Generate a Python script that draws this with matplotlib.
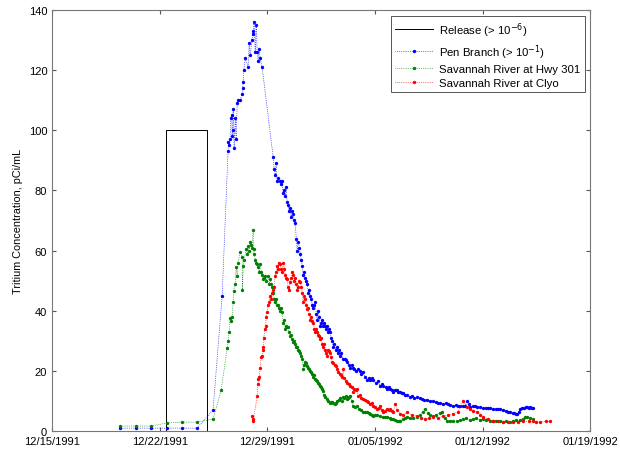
#!/usr/bin/env python
import matplotlib
matplotlib.use('Agg')
import matplotlib.pyplot as plt
import numpy as np
import pandas as pd

plt.rcParams['font.family'] = ['Liberation Sans', 'DejaVu Sans']

# days since 12/15/1991 00:00
release_days = [7.43, 7.43, 10.1, 10.1]
release_vals = [0, 100, 100, 0]

pen_days = [4.42, 5.47, 6.44, 7.48, 8.46, 9.43, 10.47, 11.06, 11.45, 11.47, 11.52, 11.58,
            11.62, 11.68, 11.71, 11.74, 11.78, 11.84, 11.91, 11.97, 12.04, 12.10, 12.23,
            12.36, 12.40, 12.43, 12.47, 12.56, 12.75, 12.82, 12.88, 13.01, 13.04, 13.08,
            13.14, 13.21, 13.27, 13.34, 13.40, 13.47, 13.53, 13.66, 14.38, 14.44, 14.51,
            14.57, 14.64, 14.70, 14.83, 14.90, 14.96, 15.03, 15.10, 15.16, 15.22, 15.29,
            15.35, 15.42, 15.48, 15.55, 15.61, 15.68, 15.75, 15.81, 15.88, 15.94, 16.01,
            16.08, 16.14, 16.20, 16.27, 16.33, 16.40, 16.46, 16.53, 16.59, 16.66, 16.72,
            16.79, 16.85, 16.92, 16.98, 17.05, 17.11, 17.18, 17.24, 17.31, 17.37, 17.44,
            17.50, 17.57, 17.63, 17.70, 17.76, 17.83, 17.89, 17.96, 18.02, 18.09, 18.15,
            18.22, 18.28, 18.35, 18.45, 18.52, 18.60, 18.67, 18.74, 18.80, 18.93, 19.05,
            19.12, 19.19, 19.30, 19.39, 19.48, 19.58, 19.66, 19.75, 19.90, 20.04, 20.12,
            20.20, 20.35, 20.49, 20.60, 20.69, 20.80, 20.88, 21.05, 21.20, 21.34, 21.45,
            21.55, 21.70, 21.80, 21.90, 21.99, 22.10, 22.19, 22.30, 22.40, 22.52, 22.64,
            22.75, 22.85, 22.97, 23.10, 23.25, 23.40, 23.55, 23.75, 23.90, 24.05, 24.20,
            24.40, 24.60, 24.79, 24.95, 25.10, 25.25, 25.44, 25.60, 25.75, 25.90, 26.09,
            26.25, 26.40, 26.55, 26.74, 26.88, 27.00, 27.10, 27.20, 27.35, 27.50, 27.65,
            27.85, 28.00, 28.20, 28.35, 28.50, 28.70, 28.85, 29.00, 29.15, 29.30, 29.50,
            29.65, 29.80, 29.95, 30.05, 30.15, 30.25, 30.35, 30.45, 30.55, 30.70, 30.80,
            30.90, 31.00, 31.10, 31.20, 31.30]
pen_vals = [1.0, 1.0, 1.0, 1.0, 1.0, 1.0, 7, 45, 93, 96, 95, 97,
            104, 105, 98, 100, 107, 94, 104, 97, 109, 110, 110,
            112, 114, 116, 120, 124, 121, 129, 125, 130, 132, 133,
            136, 126, 135, 126, 123, 127, 124, 121, 91, 87, 85,
            89, 83, 84, 83, 82, 83, 79, 80, 78, 81, 76,
            75, 73, 74, 71, 73, 72, 70, 69, 64, 60, 63,
            61, 59, 57, 55, 52, 53, 51, 50, 49, 46, 47,
            45, 44, 42, 41, 42, 43, 39, 37, 40, 38, 35,
            36, 37, 35, 36, 35, 34, 35, 33, 34, 33, 31,
            30, 28, 29, 27, 28, 26, 27, 25, 26, 24, 24,
            23.5, 23, 22, 21, 22, 21, 20.5, 20, 20.5, 20, 19,
            19.5, 18, 17, 17.5, 17, 17.5, 17, 16, 16.5, 15, 15.5,
            15, 14.5, 14, 14.5, 14, 13.5, 13, 13.5, 13.5, 13, 13,
            12.5, 12.5, 12, 12, 11.5, 11.8, 11, 11.3, 11, 10.8, 10.5,
            10.5, 10, 10, 9.8, 9.5, 9.3, 9, 9.2, 9, 8.8, 8.3,
            8.6, 8.5, 8.2, 8.3, 8.4, 10, 9, 8, 8.2, 8.2, 8,
            8, 7.8, 7.8, 7.6, 7.6, 7.4, 7.5, 7.3, 7.3, 7.0, 6.8,
            6.5, 6.3, 6.1, 6.0, 5.8, 5.7, 6.5, 7.3, 7.6, 7.8, 8,
            8, 7.7, 7.9, 7.8, 7.6]

hwy_days = [4.42, 5.47, 6.44, 7.48, 8.46, 9.43, 10.47, 11.00, 11.39, 11.45, 11.52, 11.58,
            11.65, 11.71, 11.78, 11.80, 11.91, 11.97, 12.04, 12.10, 12.23, 12.36, 12.38,
            12.43, 12.50, 12.62, 12.69, 12.75, 12.82, 12.88, 12.95, 13.01, 13.08, 13.10,
            13.15, 13.21, 13.27, 13.34, 13.40, 13.47, 13.53, 13.60, 13.66, 13.73, 13.80,
            13.86, 13.92, 14.05, 14.12, 14.18, 14.25, 14.31, 14.38, 14.44, 14.51, 14.57,
            14.64, 14.70, 14.77, 14.83, 14.90, 14.96, 15.03, 15.10, 15.16, 15.22, 15.29,
            15.35, 15.42, 15.48, 15.55, 15.61, 15.68, 15.75, 15.81, 15.88, 15.94, 16.01,
            16.08, 16.14, 16.20, 16.27, 16.33, 16.40, 16.46, 16.53, 16.59, 16.66, 16.72,
            16.79, 16.85, 16.92, 16.98, 17.05, 17.11, 17.18, 17.24, 17.31, 17.37, 17.44,
            17.50, 17.57, 17.63, 17.70, 17.76, 17.85, 17.95, 18.05, 18.15, 18.22, 18.30,
            18.41, 18.48, 18.54, 18.65, 18.75, 18.87, 18.93, 19.00, 19.10, 19.19, 19.26,
            19.33, 19.39, 19.48, 19.58, 19.70, 19.84, 19.95, 20.10, 20.23, 20.35, 20.49,
            20.60, 20.69, 20.80, 20.88, 21.00, 21.15, 21.34, 21.50, 21.65, 21.80, 21.95,
            22.05, 22.19, 22.32, 22.45, 22.55, 22.64, 22.80, 22.95, 23.10, 23.30, 23.50,
            23.75, 23.95, 24.10, 24.27, 24.45, 24.60, 24.79, 25.00, 25.20, 25.37, 25.55,
            25.70, 25.90, 26.10, 26.35, 26.55, 26.74, 26.95, 27.15, 27.39, 27.60, 27.80,
            28.04, 28.25, 28.45, 28.69, 28.90, 29.10, 29.34, 29.55, 29.75, 29.99, 30.20,
            30.40, 30.64, 30.77, 30.90, 31.10, 31.30]
hwy_vals = [1.7, 1.7, 1.7, 2.7, 3.0, 3.0, 4, 13.6, 27.6, 30, 33, 37.6,
            36.6, 38, 43, 46.6, 49, 54.5, 51.5, 56, 59.5, 58, 47,
            55, 57, 60.5, 59, 61.5, 60, 63, 62, 61, 67, 60.5,
            59, 57, 56, 55.5, 54.5, 53, 55.5, 53, 52, 50.5, 51,
            51.5, 50, 51.5, 49, 50.5, 49, 48, 46, 44, 43, 44,
            42, 42, 41, 40, 41, 39.6, 36, 37, 34, 35, 34.5,
            34.5, 33, 31.6, 32, 30.5, 29.6, 30, 29, 28, 28, 27,
            26.5, 26, 25, 24, 20.6, 22, 23, 22.5, 21.6, 21, 20.5,
            20, 19.5, 19, 18, 18.5, 17.3, 17, 16.5, 16, 15.5, 15,
            14.5, 14, 13.3, 12, 11.3, 10.6, 10, 9.5, 9.8, 9.6, 9.2,
            9, 9.5, 10, 10.5, 11, 10, 11.3, 11, 11.8, 10.6, 11,
            11.5, 11.6, 10, 8.3, 8, 8.3, 7.5, 7, 6.3, 6.5, 6.3,
            6, 5.7, 5.5, 5, 5.2, 5.4, 5, 4.8, 4.7, 4.6, 4.3,
            4.1, 4, 3.6, 3.3, 3.5, 3.3, 4, 4.3, 4.6, 4.2, 4.5,
            4.6, 5.5, 6.5, 7.3, 6, 5.5, 5, 5.5, 6, 6.3, 4.5,
            3.3, 3.5, 3.3, 3.3, 3.8, 4, 4.2, 3.8, 4, 4.2, 3.8,
            4, 3.7, 3.5, 3.3, 3.4, 3.2, 3, 3.2, 3.1, 3.3, 3.6,
            3.8, 4, 4.6, 4.6, 4.2, 4]

clyo_days = [13.01, 13.04, 13.08, 13.34, 13.38, 13.40, 13.47, 13.53, 13.60, 13.66, 13.70,
             13.73, 13.76, 13.86, 13.89, 13.92, 13.99, 14.05, 14.12, 14.18, 14.25, 14.31,
             14.38, 14.44, 14.51, 14.57, 14.64, 14.70, 14.77, 14.83, 14.90, 14.96, 15.03,
             15.10, 15.16, 15.22, 15.29, 15.35, 15.42, 15.48, 15.55, 15.61, 15.68, 15.75,
             15.81, 15.88, 15.94, 16.01, 16.08, 16.14, 16.20, 16.27, 16.33, 16.40, 16.46,
             16.53, 16.59, 16.66, 16.72, 16.79, 16.85, 16.92, 16.98, 17.05, 17.11, 17.18,
             17.24, 17.31, 17.37, 17.44, 17.50, 17.57, 17.63, 17.70, 17.76, 17.83, 17.89,
             17.96, 18.02, 18.09, 18.15, 18.22, 18.30, 18.38, 18.46, 18.54, 18.62, 18.70,
             18.78, 18.87, 18.93, 19.00, 19.10, 19.19, 19.28, 19.39, 19.48, 19.58, 19.66,
             19.75, 19.84, 19.91, 20.00, 20.10, 20.23, 20.35, 20.45, 20.56, 20.69, 20.80,
             20.88, 21.00, 21.15, 21.25, 21.34, 21.45, 21.54, 21.65, 21.80, 21.90, 21.99,
             22.10, 22.19, 22.32, 22.45, 22.64, 22.85, 23.10, 23.40, 23.75, 24.00, 24.27,
             24.50, 24.79, 25.10, 25.44, 25.75, 26.09, 26.40, 26.74, 27.00, 27.20, 27.40,
             27.65, 27.85, 28.04, 28.35, 28.69, 29.00, 29.34, 29.65, 29.99, 30.30, 30.64,
             31.00, 31.30, 31.50, 31.75, 32.10, 32.40]
clyo_vals = [5, 4, 3.3, 11.6, 15.6, 17.3, 18, 21, 24.6, 25, 27,
             28, 31, 34, 35, 38, 39.6, 42, 43, 45, 44, 46,
             47, 48, 51.5, 53, 55, 54, 56, 55.5, 54, 53, 56,
             54, 52, 51, 50.5, 48, 47, 49.5, 51, 53, 52, 50,
             51, 49, 47, 48, 50, 49.5, 48, 46, 43, 45, 44,
             42, 40.6, 41, 39, 37, 38, 36.5, 36, 34, 33, 34,
             33, 32, 31.5, 30.6, 31, 29, 28, 29, 27, 26, 25,
             27, 26.5, 26, 24.5, 23, 22.5, 22, 21.5, 20.6, 19.5, 19,
             18.5, 18, 20.6, 17.5, 16.5, 16, 15.5, 15, 14.5, 13, 14,
             13.5, 14, 11.6, 12, 11, 10.6, 10.3, 10, 9.6, 9, 9.5,
             8.3, 8, 7.3, 7.8, 8.3, 7, 6.3, 6.8, 7.3, 7, 7.3,
             6.8, 6.3, 9, 7, 5.7, 5.5, 6.3, 5.2, 5, 4.4, 4,
             4.3, 4.6, 4.4, 5, 5.2, 5.7, 6.5, 10, 8, 7.3, 6.8,
             6.3, 5.5, 4.6, 4, 3.3, 3.2, 3, 3.1, 3, 3.1, 3.3,
             3.2, 3.3, 3.1, 3, 3.2, 3.3]

tick_labels = ['12/15/1991', '12/22/1991', '12/29/1991', '01/05/1992', '01/12/1992', '01/19/1992']
y_ticks = [0, 20, 40, 60, 80, 100, 120, 140]

base = pd.Timestamp('1991-12-15')


def to_dates(days):
    return base + pd.to_timedelta(np.array(days), unit='D')


fig = plt.figure(figsize=(6.2, 4.52), dpi=100)
ax = fig.add_axes([0.084, 0.044, 0.868, 0.932])

ax.plot(to_dates(release_days), release_vals, color='black', lw=0.7, label='Release (> 10$^{-6}$)')
ax.plot(to_dates(pen_days), pen_vals, color='blue', ls=':', lw=0.5, marker='.', ms=2.8,
        label='Pen Branch (> 10$^{-1}$)')
ax.plot(to_dates(hwy_days), hwy_vals, color='green', ls=':', lw=0.5, marker='.', ms=2.8,
        label='Savannah River at Hwy 301')
ax.plot(to_dates(clyo_days), clyo_vals, color='red', ls=':', lw=0.5, marker='.', ms=2.8,
        label='Savannah River at Clyo')

tick_dates = [pd.Timestamp(t) for t in tick_labels]
ax.set_xticks(tick_dates)
ax.set_xticklabels(tick_labels)
ax.set_xlim(tick_dates[0], tick_dates[-1])
ax.set_ylim(0, 140)
ax.set_yticks(y_ticks)
ax.tick_params(direction='in', length=3, labelsize=8, top=True, right=True, color='#555555')
for s in ax.spines.values():
    s.set_color('#777777')
    s.set_linewidth(0.8)
ax.set_ylabel('Tritium Concentration, pCi/mL', fontsize=7.8)

leg = ax.legend(loc='upper right', fontsize=8.2, fancybox=False, framealpha=1,
                edgecolor='#555555', handlelength=3.3, handletextpad=0.5,
                borderaxespad=0.5, labelspacing=0.3, borderpad=0.4)
leg.get_frame().set_linewidth(0.7)

fig.savefig('out.png', dpi=100)
